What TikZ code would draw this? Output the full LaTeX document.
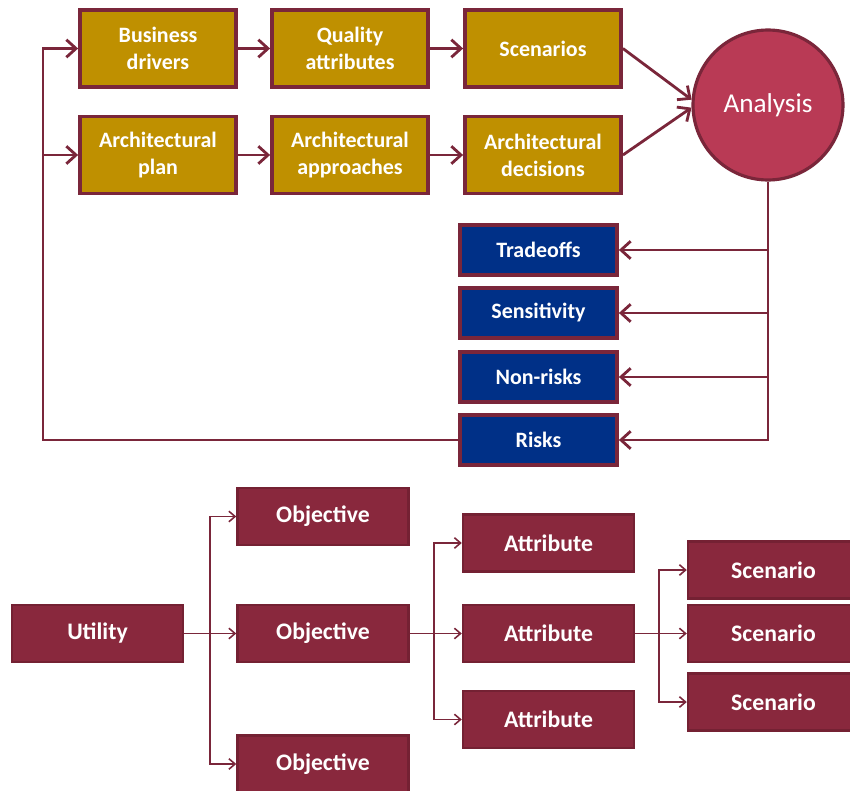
\documentclass[tikz,border=0pt]{standalone}
\usepackage{fontspec}
\setmainfont{Carlito}
\usetikzlibrary{arrows.meta,shadows}
\definecolor{gold}{RGB}{191,144,0}
\definecolor{wine}{RGB}{122,38,58}
\definecolor{navy}{RGB}{0,48,135}
\definecolor{rose}{RGB}{185,58,85}
\definecolor{claret}{RGB}{137,40,61}
\definecolor{claretline}{RGB}{116,33,51}
\tikzset{
  box/.style={draw=wine, line width=2.2pt, text=white, font=\bfseries, align=center,
    inner sep=0pt, drop shadow={opacity=0.3, shadow xshift=0.6pt, shadow yshift=-0.8pt}},
  goldbox/.style={box, fill=gold, minimum width=3.12cm, minimum height=1.54cm, font=\fontsize{12.5}{15.5}\selectfont\bfseries},
  bluebox/.style={box, fill=navy, minimum width=3.14cm, minimum height=1.0cm, font=\fontsize{12.5}{15.5}\selectfont\bfseries},
  treebox/.style={box, draw=claretline, line width=1.4pt, fill=claret, minimum width=3.42cm, minimum height=1.14cm, font=\fontsize{13.5}{15}\selectfont\bfseries},
  link/.style={draw=wine, line width=1.6pt, -{Straight Barb[length=5.5pt,width=10pt,line width=1.6pt]}},
  treelink/.style={draw=wine, line width=0.9pt, -{Straight Barb[length=3.5pt,width=6pt,line width=0.9pt]}},
}
\begin{document}
\begin{tikzpicture}[x=0.02cm,y=-0.02cm]
			%%%%% START %%%%%
			\useasboundingbox (0,0) rectangle (850,791);
			
			\node[goldbox] (bd) at (158,48.5) {Business\\drivers};
			\node[goldbox] (qa) at (350,48.5) {Quality\\attributes};
			\node[goldbox] (sc) at (543,48.5) {Scenarios};
			\node[goldbox] (ap) at (158,155) {Architectural\\plan};
			\node[goldbox] (aa) at (350,155) {Architectural\\approaches};
			\node[goldbox] (ad) at (543,155) {Architectural\\decisions};
			
			\node[circle, draw=wine, line width=1.8pt, fill=rose, text=white, minimum size=3cm,
			  font=\fontsize{15.5}{17}\selectfont,
			  drop shadow={opacity=0.3, shadow xshift=0.6pt, shadow yshift=-0.8pt}] (an) at (768,105) {Analysis};
			
			\node[bluebox] (to) at (538.5,250) {Tradeoffs};
			\node[bluebox] (se) at (538.5,313) {Sensitivity};
			\node[bluebox] (nr) at (538.5,377) {Non-risks};
			\node[bluebox] (rk) at (538.5,440) {Risks};
			
			\draw[link] (bd) -- (qa);
			\draw[link] (qa) -- (sc);
			\draw[link] (ap) -- (aa);
			\draw[link] (aa) -- (ad);
			\draw[link] (sc.east) -- (an.176);
			\draw[link] (ad.east) -- (an.182);
			
			\draw[link] (an.south) |- (rk.east);
			\draw[link] (an.south |- to.east) -- (to.east);
			\draw[link] (an.south |- se.east) -- (se.east);
			\draw[link] (an.south |- nr.east) -- (nr.east);
			
			\coordinate (fb) at (43,440);
			\draw[link] (rk.west) -- (fb) |- (bd.west);
			\draw[link] (fb |- ap.west) -- (ap.west);
			
			% utility tree
			\node[treebox] (ut) at (97.5,633.5) {Utility};
			\node[treebox] (ob1) at (323,516.5) {Objective};
			\node[treebox] (ob2) at (323,633.5) {Objective};
			\node[treebox] (ob3) at (323,764) {Objective};
			\node[treebox] (at1) at (548.5,543) {Attribute};
			\node[treebox] (at2) at (548.5,633.5) {Attribute};
			\node[treebox] (at3) at (548.5,719.5) {Attribute};
			\node[treebox] (sn1) at (773.5,570) {Scenario};
			\node[treebox] (sn2) at (773.5,633.5) {Scenario};
			\node[treebox] (sn3) at (773.5,702) {Scenario};
			
			\coordinate (b1) at (210,633.5);
			\coordinate (b2) at (434,633.5);
			\coordinate (b3) at (659,633.5);
			
			\draw[treelink] (ut) -- (ob2);
			\draw[treelink] (b1) |- (ob1.west);
			\draw[treelink] (b1) |- (ob3.west);
			\draw[treelink] (ob2) -- (at2);
			\draw[treelink] (b2) |- (at1.west);
			\draw[treelink] (b2) |- (at3.west);
			\draw[treelink] (at2) -- (sn2);
			\draw[treelink] (b3) |- (sn1.west);
			\draw[treelink] (b3) |- (sn3.west);
			%%%%% END %%%%%
\end{tikzpicture}
\end{document}
